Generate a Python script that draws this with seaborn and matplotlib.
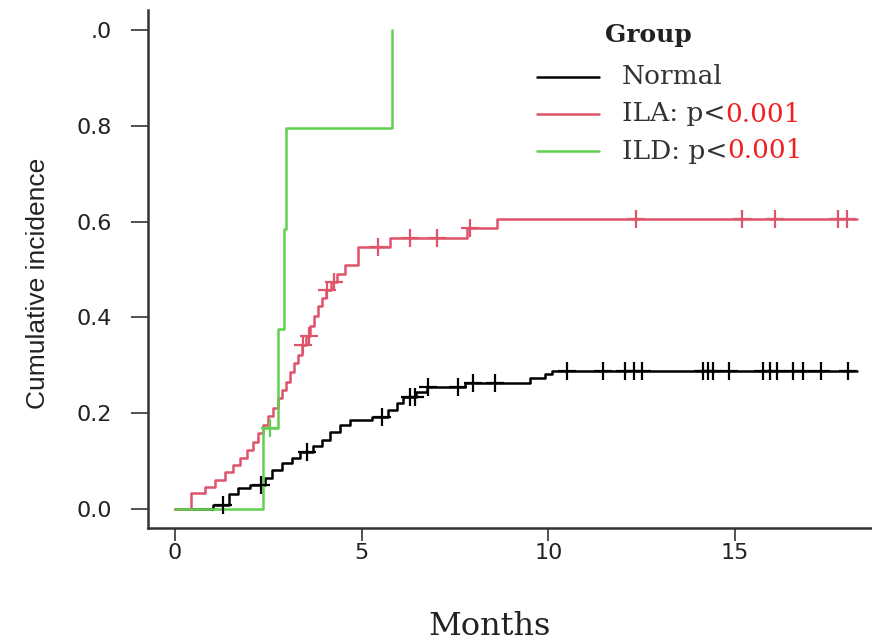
import numpy as np
import pandas as pd
import matplotlib
matplotlib.use("Agg")
import matplotlib.pyplot as plt
import seaborn as sns
from matplotlib.lines import Line2D

# ---------------- data ----------------
groups = ["Normal", "ILA", "ILD"]
colors = ["#000000", "#DF536B", "#61D04F"]

normal_time = [0, 1.02, 1.45, 1.69, 2.01, 2.41, 2.6, 2.87, 3.13, 3.35, 3.7, 3.94,
               4.15, 4.42, 4.69, 5.28, 5.71, 5.95, 6.11, 6.46, 6.75, 7.77, 9.51,
               9.91, 10.1, 18.27]
normal_cum = [0, 0.008, 0.031, 0.044, 0.05, 0.065, 0.081, 0.096, 0.106, 0.119,
              0.131, 0.144, 0.161, 0.175, 0.186, 0.192, 0.207, 0.221, 0.234,
              0.244, 0.255, 0.263, 0.273, 0.282, 0.288, 0.288]
normal_cens = [1.29, 2.3, 3.54, 5.55, 6.3, 6.43, 6.78, 7.58, 7.98, 8.57, 10.5,
               11.47, 12.05, 12.3, 12.5, 14.14, 14.28, 14.41, 14.84, 15.75,
               15.94, 16.13, 16.56, 16.82, 17.3, 18.03]

ila_time = [0, 0.43, 0.8, 1.07, 1.34, 1.55, 1.74, 1.93, 2.09, 2.22, 2.36, 2.49,
            2.63, 2.76, 2.87, 2.97, 3.08, 3.19, 3.29, 3.4, 3.51, 3.62, 3.72,
            3.83, 3.94, 4.04, 4.18, 4.34, 4.55, 4.9, 5.76, 7.82, 8.63, 18.27]
ila_cum = [0, 0.033, 0.046, 0.061, 0.077, 0.092, 0.106, 0.123, 0.14, 0.159,
           0.175, 0.194, 0.211, 0.232, 0.248, 0.265, 0.286, 0.305, 0.322, 0.342,
           0.361, 0.382, 0.403, 0.424, 0.44, 0.457, 0.474, 0.491, 0.509, 0.547,
           0.566, 0.587, 0.605, 0.605]
ila_cens = [3.43, 3.58, 4.07, 4.25, 5.45, 6.3, 7.02, 7.9, 12.35, 15.2, 16.08,
            17.76, 18.0]

ild_time = [0, 2.36, 2.76, 2.93, 2.97, 5.8]
ild_cum = [0, 0.17, 0.375, 0.585, 0.795, 1.0]
ild_cens = [2.55]

xticks = [0, 5, 10, 15]
yticks = [0.0, 0.2, 0.4, 0.6, 0.8, 1.0]
ytick_labels = ["0.0", "0.2", "0.4", "0.6", "0.8", ".0"]
legend_labels = ["Normal", "ILA: p<", "ILD: p<"]
legend_pvals = [None, "0.001", "0.001"]

# ---------------- tables ----------------
curves = pd.concat([
    pd.DataFrame({"time": normal_time, "cuminc": normal_cum, "group": "Normal"}),
    pd.DataFrame({"time": ila_time, "cuminc": ila_cum, "group": "ILA"}),
    pd.DataFrame({"time": ild_time, "cuminc": ild_cum, "group": "ILD"}),
], ignore_index=True)


def step_value(times, cums, t):
    i = np.searchsorted(np.asarray(times), t, side="right") - 1
    return cums[i]


cens_rows = []
for g, tt, cc, cs in [("Normal", normal_time, normal_cum, normal_cens),
                      ("ILA", ila_time, ila_cum, ila_cens),
                      ("ILD", ild_time, ild_cum, ild_cens)]:
    for t in cs:
        cens_rows.append({"time": t, "cuminc": step_value(tt, cc, t), "group": g})
cens = pd.DataFrame(cens_rows)

palette = dict(zip(groups, colors))

# ---------------- plot ----------------
sns.set_style("ticks")
plt.rcParams["font.family"] = ["DejaVu Sans"]

fig = plt.figure(figsize=(8.72, 6.44), dpi=100)
ax = fig.add_axes([148 / 872, 116 / 644, 724 / 872, 518 / 644])

sns.lineplot(data=curves, x="time", y="cuminc", hue="group", hue_order=groups,
             palette=palette, drawstyle="steps-post", estimator=None, sort=False,
             legend=False, linewidth=1.8, ax=ax)
sns.scatterplot(data=cens, x="time", y="cuminc", hue="group", hue_order=groups,
                palette=palette, marker="+", s=170, linewidth=1.6, legend=False,
                ax=ax, zorder=3)

ax.set_xlim(-0.723, 18.67)
ax.set_ylim(-0.0397, 1.042)
ax.set_xticks(xticks)
ax.set_xticklabels([str(v) for v in xticks])
ax.set_yticks(yticks)
ax.set_yticklabels(ytick_labels)

for s in ["top", "right"]:
    ax.spines[s].set_visible(False)
for s in ["left", "bottom"]:
    ax.spines[s].set_color("#333333")
    ax.spines[s].set_linewidth(1.8)
ax.tick_params(axis="both", colors="#333333", width=1.2,
               labelsize=16, labelcolor="#222222")
ax.tick_params(axis="y", length=12, pad=14)
ax.tick_params(axis="x", length=9, pad=2)

ax.set_xlabel("Months", family="DejaVu Serif", fontsize=23, color="#222222")
ax.set_ylabel("Cumulative incidence", family="Liberation Sans", fontsize=19,
              color="#222222")
ax.xaxis.set_label_coords(0.472, -0.19)
ax.yaxis.set_label_coords(-0.152, 0.473)
ax.xaxis.label.set_verticalalignment("center")
ax.yaxis.label.set_verticalalignment("center")

# legend (manual, to allow two-coloured labels)
def fx(px):
    return (px - 148) / 724


def fy(py):
    return (528 - py) / 518


ax.text(fx(605), fy(35), "Group", transform=ax.transAxes, family="DejaVu Serif",
        fontweight="bold", fontsize=18, color="#222222", va="center", ha="left")
rows_y = [77, 114, 151]
for lab, pv, col, yy in zip(legend_labels, legend_pvals, colors, rows_y):
    ax.add_line(Line2D([fx(537), fx(599)], [fy(yy), fy(yy)], color=col, lw=1.8,
                       transform=ax.transAxes))
    t = ax.text(fx(622), fy(yy), lab, transform=ax.transAxes, family="DejaVu Serif",
                fontsize=19, color="#333333", va="center", ha="left")
    if pv:
        ax.annotate(pv, xy=(1, 0), xycoords=t, va="bottom", ha="left",
                    family="DejaVu Serif", fontsize=19, color="#EE2222")

fig.savefig("out.png", dpi=100)
